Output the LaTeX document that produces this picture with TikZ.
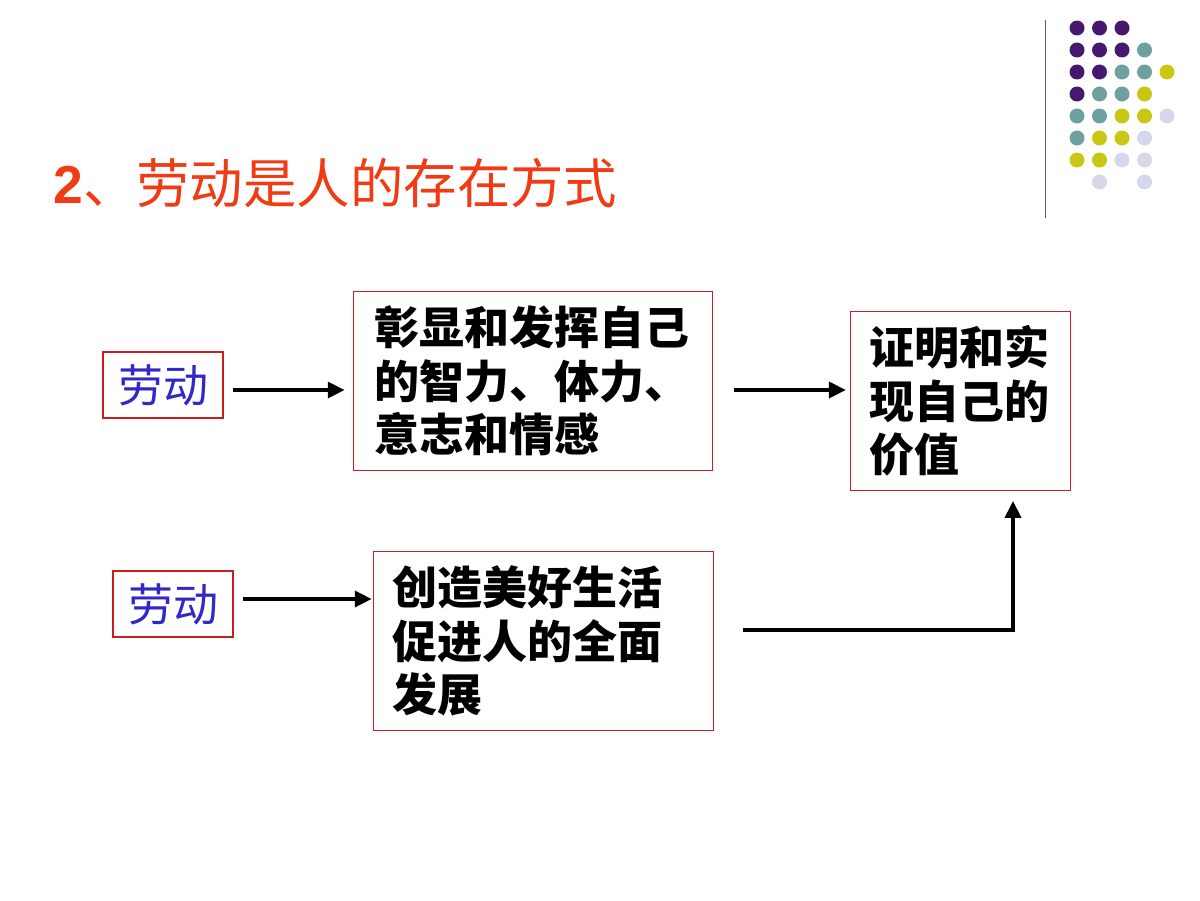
\documentclass[tikz,border=0pt]{standalone}
\usepackage{fontspec}
\setmainfont{Liberation Sans}
\newfontfamily\cjk{Noto Sans CJK SC}
\usetikzlibrary{positioning,arrows.meta}
\definecolor{titlered}{RGB}{240,60,20}
\definecolor{boxred}{RGB}{200,30,30}
\definecolor{wordblue}{RGB}{50,40,200}
\definecolor{dotpurple}{RGB}{70,25,110}
\definecolor{dotteal}{RGB}{110,160,160}
\definecolor{dotyellow}{RGB}{200,200,20}
\definecolor{dotlav}{RGB}{215,215,235}
\tikzset{wordbox/.style={draw=boxred, line width=0.8pt, minimum width=120*0.025cm, minimum height=66*0.025cm, inner sep=0pt, text=wordblue, font=\cjk\fontsize{32}{36}\selectfont}}
\tikzset{textbox/.style={draw=boxred, line width=0.8pt, align=left, anchor=north west, inner sep=0pt, font=\cjk\bfseries\fontsize{32}{38}\selectfont}}
\tikzset{flow/.style={line width=2.4pt, -{Triangle[length=0.42cm,width=0.4cm]}}}
\newcommand{\pad}{\hspace*{0.34cm}}
\begin{document}
\begin{tikzpicture}[x=0.025cm, y=-0.025cm]
\useasboundingbox (0,0) rectangle (1200,900);
\node[anchor=west, text=titlered, font=\fontsize{38}{44}\selectfont, inner sep=0pt] (title) at (53,183) {\textbf{2}{\cjk 、劳动是人的存在方式}};
\draw[gray!70!black, line width=0.6pt] (1045,20) -- (1045,218);
% dots
\foreach \c/\x/\y in {dotpurple/0/0, dotpurple/1/0, dotpurple/2/0,
  dotpurple/0/1, dotpurple/1/1, dotpurple/2/1, dotteal/3/1,
  dotpurple/0/2, dotpurple/1/2, dotteal/2/2, dotteal/3/2, dotyellow/4/2,
  dotpurple/0/3, dotteal/1/3, dotteal/2/3, dotyellow/3/3,
  dotteal/0/4, dotteal/1/4, dotyellow/2/4, dotyellow/3/4, dotlav/4/4,
  dotteal/0/5, dotyellow/1/5, dotyellow/2/5, dotlav/3/5,
  dotyellow/0/6, dotyellow/1/6, dotlav/2/6, dotlav/3/6,
  dotlav/1/7, dotlav/3/7}
  \fill[\c] (1077+22.5*\x, 28+22*\y) circle (7.5);
% boxes
\node[wordbox] (work1) at (163,385) {劳动};
\node[wordbox] (work2) at (173,604) {劳动};
\node[textbox, minimum width=8.975cm, minimum height=4.475cm, text width=8.6cm] (show) at (353,291) {\pad 彰显和发挥自己\\\pad 的智力、体力、\\\pad 意志和情感};
\node[textbox, minimum width=5.5cm, minimum height=4.475cm, text width=5.25cm] (value) at (850,311) {\pad 证明和实\\\pad 现自己的\\\pad 价值};
\node[textbox, minimum width=8.5cm, minimum height=4.475cm, text width=8.25cm] (create) at (373,551) {\pad 创造美好生活\\\pad 促进人的全面\\\pad 发展};
% arrows
\coordinate (turn) at (1013,630);
\draw[flow, shorten <=7pt, shorten >=6pt] ([yshift=-5*0.025cm]work1.east) -- ([yshift=-5*0.025cm]work1.east -| show.west);
\draw[flow, shorten <=15pt, shorten >=3pt] ([yshift=-5*0.025cm]show.east |- work1.east) -- ([yshift=-5*0.025cm]value.west |- work1.east);
\draw[flow, shorten <=7pt, shorten >=1pt] ([yshift=5*0.025cm]work2.east) -- ([yshift=5*0.025cm]work2.east -| create.west);
\draw[flow, shorten >=7pt] ([xshift=29*0.025cm]create.east |- turn) -- (turn) -- (turn |- value.south);
\end{tikzpicture}
\end{document}
